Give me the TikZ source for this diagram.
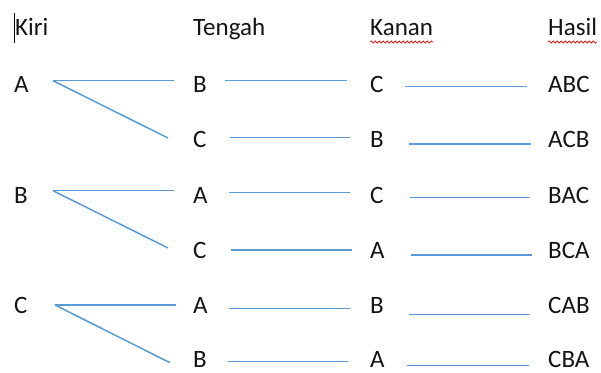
\documentclass[tikz,border=0pt]{standalone}
\usepackage{fontspec}
\setmainfont{Carlito}
\usepackage{xcolor}
\usepackage{tikz}
\usetikzlibrary{positioning, decorations.pathmorphing}
\definecolor{LinkBlue}{RGB}{91, 155, 213}
\definecolor{SpellRed}{RGB}{225, 35, 35}
\definecolor{TextBlack}{RGB}{20, 20, 20}

\tikzset{
  lbl/.style={anchor=base west, inner sep=0pt, text=TextBlack, font=\fontsize{25}{30}\selectfont},
  link/.style={draw=LinkBlue, line width=1.5pt},
  squiggle/.style={draw=SpellRed, line width=0.8pt, decorate,
                   decoration={snake, amplitude=1.1pt, segment length=4pt}}
}

\begin{document}
\begin{tikzpicture}[x=1pt, y=-1pt]
    \useasboundingbox (0,0) rectangle (601,372);

    % header row
    \node[lbl] (hKiri)   at (15,35)  {Kiri};
    \node[lbl] (hTengah) at (193,35) {Tengah};
    \node[lbl] (hKanan)  at (370,35) {Kanan};
    \node[lbl] (hHasil)  at (548,35) {Hasil};
    \draw[black, line width=1pt] ([xshift=-1pt, yshift=22pt]hKiri.base west) -- ([xshift=-1pt, yshift=-8pt]hKiri.base west);
    \draw[squiggle] ([yshift=-7pt]hKanan.base west) -- ([yshift=-7pt]hKanan.base east);
    \draw[squiggle] ([yshift=-7pt]hHasil.base west) -- ([yshift=-7pt]hHasil.base east);

    % kiri
    \node[lbl] (k1) at (14,92)  {A};
    \node[lbl] (k2) at (14,203) {B};
    \node[lbl] (k3) at (14,313) {C};

    % tengah
    \node[lbl] (t1) at (193,92)  {B};
    \node[lbl] (t2) at (193,147) {C};
    \node[lbl] (t3) at (193,203) {A};
    \node[lbl] (t4) at (193,258) {C};
    \node[lbl] (t5) at (193,313) {A};
    \node[lbl] (t6) at (193,367) {B};

    % kanan
    \node[lbl] (n1) at (370,92)  {C};
    \node[lbl] (n2) at (370,147) {B};
    \node[lbl] (n3) at (370,203) {C};
    \node[lbl] (n4) at (370,258) {A};
    \node[lbl] (n5) at (370,313) {B};
    \node[lbl] (n6) at (370,367) {A};

    % hasil
    \node[lbl] (h1) at (548,92)  {ABC};
    \node[lbl] (h2) at (548,147) {ACB};
    \node[lbl] (h3) at (548,203) {BAC};
    \node[lbl] (h4) at (548,258) {BCA};
    \node[lbl] (h5) at (548,313) {CAB};
    \node[lbl] (h6) at (548,367) {CBA};

    % kiri -> tengah (forks)
    \coordinate (f1) at ([xshift=39pt, yshift=11.3pt]k1.base west);
    \coordinate (f2) at ([xshift=39pt, yshift=12.3pt]k2.base west);
    \coordinate (f3) at ([xshift=41pt, yshift=8pt]k3.base west);
    \draw[link] (f1) -- ([xshift=-19pt, yshift=11.3pt]t1.base west);
    \draw[link] (f1) -- ([xshift=-25pt, yshift=9pt]t2.base west);
    \draw[link] (f2) -- ([xshift=-19pt, yshift=12.3pt]t3.base west);
    \draw[link] (f2) -- ([xshift=-25pt, yshift=10pt]t4.base west);
    \draw[link] (f3) -- ([xshift=-17pt, yshift=8pt]t5.base west);
    \draw[link] (f3) -- ([xshift=-23pt, yshift=4.3pt]t6.base west);

    % tengah -> kanan
    \draw[link] ([xshift=32pt, yshift=11.3pt]t1.base west) -- ([xshift=-23pt, yshift=11.3pt]n1.base west);
    \draw[link] ([xshift=37pt, yshift=9.3pt]t2.base west)  -- ([xshift=-20pt, yshift=9.3pt]n2.base west);
    \draw[link] ([xshift=36pt, yshift=10.7pt]t3.base west) -- ([xshift=-20pt, yshift=10.7pt]n3.base west);
    \draw[link] ([xshift=38pt, yshift=8pt]t4.base west)    -- ([xshift=-18pt, yshift=8pt]n4.base west);
    \draw[link] ([xshift=36pt, yshift=4.5pt]t5.base west)  -- ([xshift=-20pt, yshift=4.5pt]n5.base west);
    \draw[link] ([xshift=35pt, yshift=5.5pt]t6.base west)  -- ([xshift=-22pt, yshift=5.5pt]n6.base west);

    % kanan -> hasil
    \draw[link] ([xshift=35pt, yshift=5.3pt]n1.base west)  -- ([xshift=-21pt, yshift=5.3pt]h1.base west);
    \draw[link] ([xshift=39pt, yshift=3pt]n2.base west)    -- ([xshift=-17pt, yshift=3pt]h2.base west);
    \draw[link] ([xshift=40pt, yshift=5.3pt]n3.base west)  -- ([xshift=-18pt, yshift=5.3pt]h3.base west);
    \draw[link] ([xshift=41pt, yshift=3pt]n4.base west)    -- ([xshift=-16pt, yshift=3pt]h4.base west);
    \draw[link] ([xshift=39pt, yshift=-1.3pt]n5.base west) -- ([xshift=-18pt, yshift=-1.3pt]h5.base west);
    \draw[link] ([xshift=37pt, yshift=1.3pt]n6.base west)  -- ([xshift=-19pt, yshift=1.3pt]h6.base west);
\end{tikzpicture}
\end{document}
